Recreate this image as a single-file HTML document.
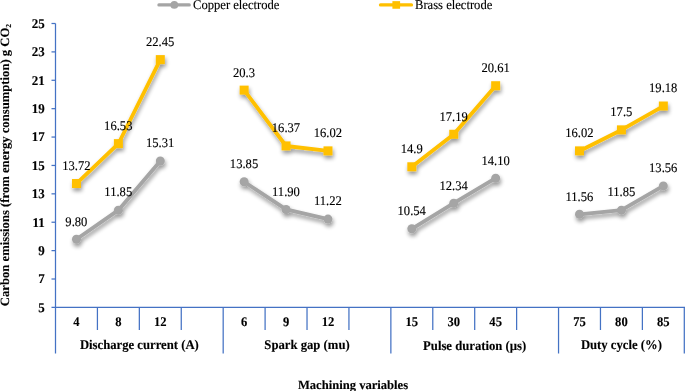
<!DOCTYPE html>
<html><head><meta charset="utf-8"><title>chart</title>
<style>html,body{margin:0;padding:0;background:#fff}body{width:685px;height:391px;overflow:hidden}svg{display:block;will-change:transform}text{font-family:"Liberation Serif",serif;fill:#000;text-rendering:geometricPrecision;stroke:#000;stroke-width:0.12px}.b{font-weight:bold}</style></head><body>
<svg width="685" height="391" viewBox="0 0 685 391">
<defs><filter id="sh" x="-5%" y="-10%" width="110%" height="150%"><feGaussianBlur in="SourceAlpha" stdDeviation="2.2"/><feOffset dx="0.8" dy="3.0" result="o"/><feComponentTransfer><feFuncA type="linear" slope="0.42"/></feComponentTransfer><feMerge><feMergeNode/><feMergeNode in="SourceGraphic"/></feMerge></filter></defs>
<rect width="685" height="391" fill="#fff"/>
<g stroke="#4472C4" stroke-width="1.25" fill="none">
<line x1="55.5" y1="23.50" x2="55.5" y2="353.5"/>
<line x1="51.5" y1="307.4" x2="685" y2="307.4"/>
<line x1="51.5" y1="279.01" x2="55.5" y2="279.01"/>
<line x1="51.5" y1="250.62" x2="55.5" y2="250.62"/>
<line x1="51.5" y1="222.23" x2="55.5" y2="222.23"/>
<line x1="51.5" y1="193.84" x2="55.5" y2="193.84"/>
<line x1="51.5" y1="165.45" x2="55.5" y2="165.45"/>
<line x1="51.5" y1="137.06" x2="55.5" y2="137.06"/>
<line x1="51.5" y1="108.67" x2="55.5" y2="108.67"/>
<line x1="51.5" y1="80.28" x2="55.5" y2="80.28"/>
<line x1="51.5" y1="51.89" x2="55.5" y2="51.89"/>
<line x1="51.5" y1="23.50" x2="55.5" y2="23.50"/>
<line x1="97.42" y1="307.4" x2="97.42" y2="330"/>
<line x1="139.34" y1="307.4" x2="139.34" y2="330"/>
<line x1="181.26" y1="307.4" x2="181.26" y2="330"/>
<line x1="223.18" y1="307.4" x2="223.18" y2="353.5"/>
<line x1="265.10" y1="307.4" x2="265.10" y2="330"/>
<line x1="307.02" y1="307.4" x2="307.02" y2="330"/>
<line x1="348.94" y1="307.4" x2="348.94" y2="330"/>
<line x1="390.86" y1="307.4" x2="390.86" y2="353.5"/>
<line x1="432.78" y1="307.4" x2="432.78" y2="330"/>
<line x1="474.70" y1="307.4" x2="474.70" y2="330"/>
<line x1="516.62" y1="307.4" x2="516.62" y2="330"/>
<line x1="558.54" y1="307.4" x2="558.54" y2="353.5"/>
<line x1="600.46" y1="307.4" x2="600.46" y2="330"/>
<line x1="642.38" y1="307.4" x2="642.38" y2="330"/>
<line x1="684.30" y1="307.4" x2="684.30" y2="353.5"/>
</g>
<text class="b" transform="translate(44.80 311.70) scale(1 1.03)" font-size="13" text-anchor="end">5</text>
<text class="b" transform="translate(44.80 283.31) scale(1 1.03)" font-size="13" text-anchor="end">7</text>
<text class="b" transform="translate(44.80 254.92) scale(1 1.03)" font-size="13" text-anchor="end">9</text>
<text class="b" transform="translate(44.80 226.53) scale(1 1.03)" font-size="13" text-anchor="end">11</text>
<text class="b" transform="translate(44.80 198.14) scale(1 1.03)" font-size="13" text-anchor="end">13</text>
<text class="b" transform="translate(44.80 169.75) scale(1 1.03)" font-size="13" text-anchor="end">15</text>
<text class="b" transform="translate(44.80 141.36) scale(1 1.03)" font-size="13" text-anchor="end">17</text>
<text class="b" transform="translate(44.80 112.97) scale(1 1.03)" font-size="13" text-anchor="end">19</text>
<text class="b" transform="translate(44.80 84.58) scale(1 1.03)" font-size="13" text-anchor="end">21</text>
<text class="b" transform="translate(44.80 56.19) scale(1 1.03)" font-size="13" text-anchor="end">23</text>
<text class="b" transform="translate(44.80 27.80) scale(1 1.03)" font-size="13" text-anchor="end">25</text>
<text class="b" transform="translate(76.46 326.00) scale(1 1.05)" font-size="12.6" text-anchor="middle">4</text>
<text class="b" transform="translate(118.38 326.00) scale(1 1.05)" font-size="12.6" text-anchor="middle">8</text>
<text class="b" transform="translate(160.30 326.00) scale(1 1.05)" font-size="12.6" text-anchor="middle">12</text>
<text class="b" transform="translate(244.14 326.00) scale(1 1.05)" font-size="12.6" text-anchor="middle">6</text>
<text class="b" transform="translate(286.06 326.00) scale(1 1.05)" font-size="12.6" text-anchor="middle">9</text>
<text class="b" transform="translate(327.98 326.00) scale(1 1.05)" font-size="12.6" text-anchor="middle">12</text>
<text class="b" transform="translate(411.82 326.00) scale(1 1.05)" font-size="12.6" text-anchor="middle">15</text>
<text class="b" transform="translate(453.74 326.00) scale(1 1.05)" font-size="12.6" text-anchor="middle">30</text>
<text class="b" transform="translate(495.66 326.00) scale(1 1.05)" font-size="12.6" text-anchor="middle">45</text>
<text class="b" transform="translate(579.50 326.00) scale(1 1.05)" font-size="12.6" text-anchor="middle">75</text>
<text class="b" transform="translate(621.42 326.00) scale(1 1.05)" font-size="12.6" text-anchor="middle">80</text>
<text class="b" transform="translate(663.34 326.00) scale(1 1.05)" font-size="12.6" text-anchor="middle">85</text>
<text class="b" transform="translate(139.34 349.30) scale(1 1.05)" font-size="12.7" text-anchor="middle">Discharge current (A)</text>
<text class="b" transform="translate(307.02 349.30) scale(1 1.05)" font-size="12.7" text-anchor="middle">Spark gap (mu)</text>
<text class="b" transform="translate(474.70 350.00) scale(1 1.05)" font-size="12.7" text-anchor="middle">Pulse duration (µs)</text>
<text class="b" transform="translate(621.42 349.30) scale(1 1.05)" font-size="12.7" text-anchor="middle">Duty cycle (%)</text>
<text class="b" transform="translate(353.00 388.60) scale(1 1.0)" font-size="12.6" text-anchor="middle">Machining variables</text>
<text class="b" transform="translate(8.7,306.2) rotate(-90)" font-size="12.68">Carbon emissions (from energy consumption) g CO<tspan font-size="7.6" dy="2.1">2</tspan></text>
<g filter="url(#sh)">
<polyline points="76.46,239.26 118.38,210.16 160.30,161.05" fill="none" stroke="#A5A5A5" stroke-width="3.8" stroke-linecap="round" stroke-linejoin="round"/>
<circle cx="76.46" cy="239.26" r="4.5" fill="#A5A5A5"/>
<circle cx="118.38" cy="210.16" r="4.5" fill="#A5A5A5"/>
<circle cx="160.30" cy="161.05" r="4.5" fill="#A5A5A5"/>
<polyline points="244.14,181.77 286.06,209.45 327.98,219.11" fill="none" stroke="#A5A5A5" stroke-width="3.8" stroke-linecap="round" stroke-linejoin="round"/>
<circle cx="244.14" cy="181.77" r="4.5" fill="#A5A5A5"/>
<circle cx="286.06" cy="209.45" r="4.5" fill="#A5A5A5"/>
<circle cx="327.98" cy="219.11" r="4.5" fill="#A5A5A5"/>
<polyline points="411.82,228.76 453.74,203.21 495.66,178.23" fill="none" stroke="#A5A5A5" stroke-width="3.8" stroke-linecap="round" stroke-linejoin="round"/>
<circle cx="411.82" cy="228.76" r="4.5" fill="#A5A5A5"/>
<circle cx="453.74" cy="203.21" r="4.5" fill="#A5A5A5"/>
<circle cx="495.66" cy="178.23" r="4.5" fill="#A5A5A5"/>
<polyline points="579.50,214.28 621.42,210.16 663.34,185.89" fill="none" stroke="#A5A5A5" stroke-width="3.8" stroke-linecap="round" stroke-linejoin="round"/>
<circle cx="579.50" cy="214.28" r="4.5" fill="#A5A5A5"/>
<circle cx="621.42" cy="210.16" r="4.5" fill="#A5A5A5"/>
<circle cx="663.34" cy="185.89" r="4.5" fill="#A5A5A5"/>
</g>
<g filter="url(#sh)">
<polyline points="76.46,183.62 118.38,143.73 160.30,59.70" fill="none" stroke="#FFC000" stroke-width="3.8" stroke-linecap="round" stroke-linejoin="round"/>
<rect x="71.96" y="179.02" width="9" height="9" fill="#FFC000"/>
<rect x="113.88" y="139.13" width="9" height="9" fill="#FFC000"/>
<rect x="155.80" y="55.10" width="9" height="9" fill="#FFC000"/>
<polyline points="244.14,90.22 286.06,146.00 327.98,150.97" fill="none" stroke="#FFC000" stroke-width="3.8" stroke-linecap="round" stroke-linejoin="round"/>
<rect x="239.64" y="85.62" width="9" height="9" fill="#FFC000"/>
<rect x="281.56" y="141.40" width="9" height="9" fill="#FFC000"/>
<rect x="323.48" y="146.37" width="9" height="9" fill="#FFC000"/>
<polyline points="411.82,166.87 453.74,134.36 495.66,85.82" fill="none" stroke="#FFC000" stroke-width="3.8" stroke-linecap="round" stroke-linejoin="round"/>
<rect x="407.32" y="162.27" width="9" height="9" fill="#FFC000"/>
<rect x="449.24" y="129.76" width="9" height="9" fill="#FFC000"/>
<rect x="491.16" y="81.22" width="9" height="9" fill="#FFC000"/>
<polyline points="579.50,150.97 621.42,129.96 663.34,106.11" fill="none" stroke="#FFC000" stroke-width="3.8" stroke-linecap="round" stroke-linejoin="round"/>
<rect x="575.00" y="146.37" width="9" height="9" fill="#FFC000"/>
<rect x="616.92" y="125.36" width="9" height="9" fill="#FFC000"/>
<rect x="658.84" y="101.51" width="9" height="9" fill="#FFC000"/>
</g>
<text transform="translate(76.36 225.56) scale(1 1.05)" font-size="12.6" text-anchor="middle">9.80</text>
<text transform="translate(118.28 196.46) scale(1 1.05)" font-size="12.6" text-anchor="middle">11.85</text>
<text transform="translate(160.20 147.35) scale(1 1.05)" font-size="12.6" text-anchor="middle">15.31</text>
<text transform="translate(244.04 168.07) scale(1 1.05)" font-size="12.6" text-anchor="middle">13.85</text>
<text transform="translate(285.96 195.75) scale(1 1.05)" font-size="12.6" text-anchor="middle">11.90</text>
<text transform="translate(327.88 205.41) scale(1 1.05)" font-size="12.6" text-anchor="middle">11.22</text>
<text transform="translate(411.72 215.06) scale(1 1.05)" font-size="12.6" text-anchor="middle">10.54</text>
<text transform="translate(453.64 189.51) scale(1 1.05)" font-size="12.6" text-anchor="middle">12.34</text>
<text transform="translate(495.56 164.53) scale(1 1.05)" font-size="12.6" text-anchor="middle">14.10</text>
<text transform="translate(579.40 200.58) scale(1 1.05)" font-size="12.6" text-anchor="middle">11.56</text>
<text transform="translate(621.32 196.46) scale(1 1.05)" font-size="12.6" text-anchor="middle">11.85</text>
<text transform="translate(663.24 172.19) scale(1 1.05)" font-size="12.6" text-anchor="middle">13.56</text>
<text transform="translate(76.36 169.92) scale(1 1.05)" font-size="12.6" text-anchor="middle">13.72</text>
<text transform="translate(118.28 130.03) scale(1 1.05)" font-size="12.6" text-anchor="middle">16.53</text>
<text transform="translate(160.20 46.00) scale(1 1.05)" font-size="12.6" text-anchor="middle">22.45</text>
<text transform="translate(244.04 76.52) scale(1 1.05)" font-size="12.6" text-anchor="middle">20.3</text>
<text transform="translate(285.96 132.30) scale(1 1.05)" font-size="12.6" text-anchor="middle">16.37</text>
<text transform="translate(327.88 137.27) scale(1 1.05)" font-size="12.6" text-anchor="middle">16.02</text>
<text transform="translate(411.72 153.17) scale(1 1.05)" font-size="12.6" text-anchor="middle">14.9</text>
<text transform="translate(453.64 120.66) scale(1 1.05)" font-size="12.6" text-anchor="middle">17.19</text>
<text transform="translate(495.56 72.12) scale(1 1.05)" font-size="12.6" text-anchor="middle">20.61</text>
<text transform="translate(579.40 137.27) scale(1 1.05)" font-size="12.6" text-anchor="middle">16.02</text>
<text transform="translate(621.32 116.26) scale(1 1.05)" font-size="12.6" text-anchor="middle">17.5</text>
<text transform="translate(663.24 92.41) scale(1 1.05)" font-size="12.6" text-anchor="middle">19.18</text>
<line x1="158.9" y1="4.93" x2="189.3" y2="4.93" stroke="#A5A5A5" stroke-width="3.2" stroke-linecap="round"/><circle cx="174.3" cy="4.93" r="3.85" fill="#A5A5A5"/>
<line x1="380.5" y1="4.9" x2="411.5" y2="4.9" stroke="#FFC000" stroke-width="3.3" stroke-linecap="round"/><rect x="392.4" y="1.15" width="7.7" height="7.6" fill="#FFC000"/>
<text transform="translate(193.00 9.00) scale(1 1.05)" font-size="12.6" text-anchor="start">Copper electrode</text>
<text transform="translate(415.00 9.00) scale(1 1.05)" font-size="12.6" text-anchor="start">Brass electrode</text>
</svg></body></html>
